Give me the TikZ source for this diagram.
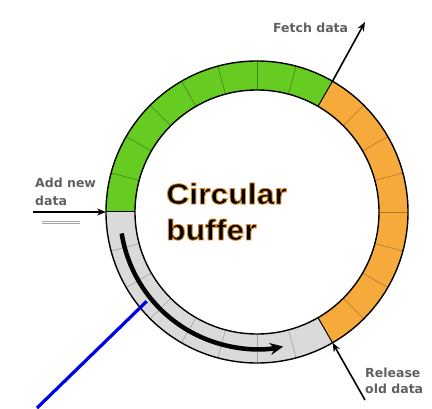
\documentclass[tikz,border=0pt]{standalone}
\usepackage{fontspec}
\setmainfont{Liberation Sans}
\newfontfamily\labelfont{DejaVu Sans}
\usetikzlibrary{arrows.meta}
\definecolor{ringgreen}{HTML}{66CC22}
\definecolor{ringorange}{HTML}{F7AA3C}
\definecolor{ringgray}{HTML}{DADADA}
\definecolor{labelgray}{HTML}{606060}
\newcommand{\glowtext}[1]{%
  \special{pdf:literal direct 2 Tr 0.85 0.54 0.16 RG 0.9 w}#1\special{pdf:literal direct 0 Tr}}
\tikzset{
  ringline/.style={line width=1.4pt,black},
  divider/.style={line width=0.6pt},
  lbl/.style={font=\labelfont\bfseries\fontsize{12.5}{17}\selectfont,text=labelgray,inner sep=0,align=left},
  ptr/.style={line width=1.6pt,-{Stealth[length=9pt,width=7pt]}},
  titlefont/.style={anchor=base west,inner sep=0,font=\bfseries\fontsize{29}{37}\selectfont},
}
\begin{document}
\begin{tikzpicture}[x=1pt,y=1pt]
\useasboundingbox (0,0) rectangle (432,408);
\coordinate (c) at (257,196);
\def\R{151}
\def\r{122}
% sectors
\fill[ringgreen] ([shift={(60:\R)}]c) arc[start angle=60,end angle=180,radius=\R]
  -- ([shift={(180:\r)}]c) arc[start angle=180,end angle=60,radius=\r] -- cycle;
\fill[ringorange] ([shift={(-60:\R)}]c) arc[start angle=-60,end angle=60,radius=\R]
  -- ([shift={(60:\r)}]c) arc[start angle=60,end angle=-60,radius=\r] -- cycle;
\fill[ringgray] ([shift={(180:\R)}]c) arc[start angle=180,end angle=300,radius=\R]
  -- ([shift={(300:\r)}]c) arc[start angle=300,end angle=180,radius=\r] -- cycle;
% dividers
\foreach \a in {75,90,...,165}
  \draw[divider,ringgreen!65!black] ([shift={(\a:\r)}]c) -- ([shift={(\a:\R)}]c);
\foreach \a in {-45,-30,...,45}
  \draw[divider,ringorange!70!black] ([shift={(\a:\r)}]c) -- ([shift={(\a:\R)}]c);
\foreach \a in {195,210,...,285}
  \draw[divider,ringgray!75!black] ([shift={(\a:\r)}]c) -- ([shift={(\a:\R)}]c);
\foreach \a in {60,180,300}
  \draw[ringline,line width=1pt] ([shift={(\a:\r)}]c) -- ([shift={(\a:\R)}]c);
\draw[ringline] (c) circle[radius=\R];
\draw[ringline] (c) circle[radius=\r];
% progress arrow in the gray part
\draw[line width=4.5pt,-{Stealth[length=13pt,width=12pt]}]
  ([shift={(189:137)}]c) arc[start angle=189,end angle=281,radius=137];
% ring coordinates
\coordinate (fetchpt) at ([shift={(60:\R)}]c);
\coordinate (releasept) at ([shift={(-60:\R)}]c);
\coordinate (addpt) at ([shift={(180:\R)}]c);
\coordinate (bluept) at ([shift={(219:142)}]c);
\coordinate (fetchend) at (365,386);
\coordinate (releasestart) at (365,8);
\coordinate (addstart) at (33,196);
\coordinate (bluestart) at (37,0);
% title
\node[titlefont] (title1) at (166,204) {\scalebox{1.1}[1]{\glowtext{Circular}}};
\node[titlefont] (title2) at (166,168) {\scalebox{1.1}[1]{\glowtext{buffer}}};
% labels
\node[lbl,anchor=base west] (fetch) at (273,375) {Fetch data};
\node[lbl,anchor=base west] (add1) at (35,220) {Add new};
\node[lbl,anchor=base west] (add2) at (35,203) {data};
\node[lbl,anchor=base west] (rel1) at (365,31) {Release};
\node[lbl,anchor=base west] (rel2) at (365,15) {old data};
% connectors
\draw[ptr] (fetchpt) -- (fetchend);
\draw[ptr] (releasestart) -- (releasept);
\draw[ptr] (addstart) -- (addpt);
\draw[gray!70,line width=0.6pt] (42,187) -- (80,187) (42,185) -- (80,185);
\draw[blue!90!black,line width=3.2pt] (bluestart) -- (bluept);
\end{tikzpicture}
\end{document}
